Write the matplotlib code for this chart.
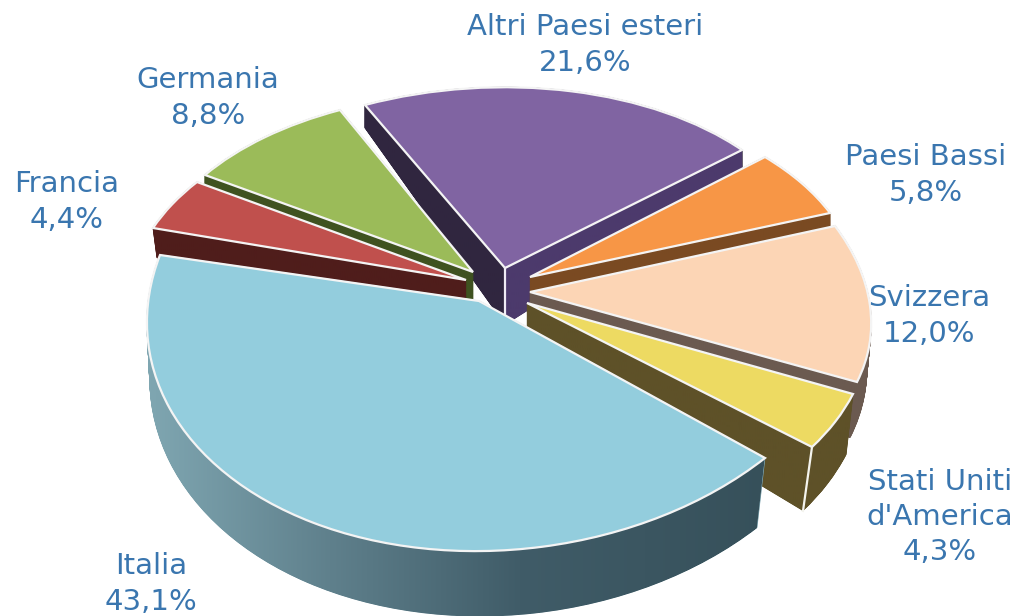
import numpy as np
from matplotlib import pyplot as plt
from matplotlib.colors import to_rgb
from matplotlib.path import Path
from matplotlib.transforms import Transform

# pie order, counter-clockwise starting from the lower right
labels = ["Stati Uniti\nd'America", "Svizzera", "Paesi Bassi", "Altri Paesi esteri", "Germania", "Francia", "Italia"]
values = [4.3, 12.0, 5.8, 21.6, 8.8, 4.4, 43.1]
value_labels = ["4,3%", "12,0%", "5,8%", "21,6%", "8,8%", "4,4%", "43,1%"]

top_colors = ["#EDDA62", "#FCD5B5", "#F79646", "#8064A2", "#9BBB59", "#C0504D", "#93CDDD"]

# walls: colour stops along x (pixels)
wall_colors = [
	[(0, "#5E5128"), (1016, "#5E5128")],
	[(0, "#6B5A50"), (1016, "#6B5A50")],
	[(0, "#7A4A22"), (1016, "#7A4A22")],
	[(0, "#30263F"), (504, "#30263F"), (506, "#4C3A6C"), (1016, "#4C3A6C")],
	[(0, "#3F5220"), (1016, "#3F5220")],
	[(0, "#4F1D1B"), (1016, "#4F1D1B")],
	[(0, "#7FA6B1"), (150, "#7FA6B1"), (330, "#5F808C"), (520, "#405C68"), (770, "#36505A"), (1016, "#36505A")],
]

# placement on the canvas: apex, rim at start angle, rim at end angle (pixels)
top_pts = [
	[(527, 303), (812, 447), (853, 394)],
	[(530, 292), (857, 382), (835, 226)],
	[(530, 277), (830, 213), (765, 157)],
	[(505, 268), (742, 150), (365, 105)],
	[(473, 272), (340, 110), (205, 175)],
	[(466, 280), (197, 182), (153, 228)],
	[(479, 301), (160, 255), (765, 458)],
]
bottom_pts = [
	[(527, 345), (803, 511), (846, 455)],
	[(530, 345), (850, 438), (835, 270)],
	[(530, 325), (830, 250), (765, 190)],
	[(505, 325), (742, 175), (365, 128)],
	[(473, 325), (340, 135), (205, 200)],
	[(466, 320), (197, 210), (157, 258)],
	[(479, 360), (165, 305), (757, 528)],
]

# perspective of each slice: (along sin, along cos)
tilts = [(0, 0), (0, 0), (0, 0), (0.08, 0.05), (0, 0), (0, 0), (0, -0.075)]

# back to front
draw_order = [3, 2, 4, 5, 1, 0, 6]
start_angle = -36
n_layers = 80

label_pos = [(940, 517), (929, 316), (926, 175), (585, 45), (208, 98), (67, 202), (151, 584)]
text_color = "#3A76AF"

class Tilted(Transform):
	# unit circle -> canvas, one side of the pie comes out bigger
	input_dims = 2
	output_dims = 2

	def __init__(self, m, apex, tilt):
		super().__init__()
		self.m = m
		self.apex = apex
		self.tilt = tilt

	def transform_non_affine(self, values):
		v = np.asarray(values)
		w = 1 + self.tilt[0] * v[:, 1] + self.tilt[1] * v[:, 0]
		return (v @ self.m.T) / w[:, np.newaxis] + self.apex

def solve_matrix(pts, theta0, theta1, tilt):
	apex, p0, p1 = [np.array(p, dtype=float) for p in pts]
	c0, c1 = np.cos(np.radians(theta0)), np.cos(np.radians(theta1))
	s0, s1 = np.sin(np.radians(theta0)), np.sin(np.radians(theta1))
	unit = np.array([[c0, c1], [s0, s1]])
	w0 = 1 + tilt[0] * s0 + tilt[1] * c0
	w1 = 1 + tilt[0] * s1 + tilt[1] * c1
	rim = np.column_stack([(p0 - apex) * w0, (p1 - apex) * w1])
	return rim @ np.linalg.inv(unit), apex

fig = plt.figure(figsize=(10.16, 6.16), dpi=100)
ax = fig.add_axes([0, 0, 1, 1])

edges = start_angle + np.concatenate([[0], np.cumsum(values)]) * 3.6

for z, i in enumerate(draw_order):
	m_top, apex_top = solve_matrix(top_pts[i], edges[i], edges[i + 1], tilts[i])
	m_bot, apex_bot = solve_matrix(bottom_pts[i], edges[i], edges[i + 1], tilts[i])
	frac = values[i] / 100
	outline = []

	for layer in range(n_layers):
		t = layer / (n_layers - 1)
		tr = Tilted(m_bot * (1 - t) + m_top * t, apex_bot * (1 - t) + apex_top * t, tilts[i])
		wedge = ax.pie([frac], normalize=False, startangle=edges[i])[0][0]
		wedge.set_transform(tr + ax.transData)
		wedge.set_zorder(z * 10 + 1)
		wedge.set_facecolor(wall_colors[i][0][1])
		wedge.set_edgecolor("white" if layer == 0 else wall_colors[i][0][1])
		wedge.set_linewidth(2.2 if layer == 0 else 0.8)
		outline.append(tr.transform_path(wedge.get_path().transformed(wedge.get_patch_transform())))

	# wall shading, clipped to the extruded outline
	xs = np.arange(0, 1017, 2)
	stops = wall_colors[i]
	rgb = np.array([to_rgb(c) for _, c in stops])
	grad = np.stack([np.interp(xs, [s[0] for s in stops], rgb[:, k]) for k in range(3)], axis=-1)
	im = ax.imshow(grad[np.newaxis, :, :], extent=(0, 1016, 616, 0), aspect="auto", zorder=z * 10 + 2)
	im.set_clip_path(Path.make_compound_path(*outline), ax.transData)

	wedge = ax.pie([frac], normalize=False, startangle=edges[i])[0][0]
	wedge.set_transform(Tilted(m_top, apex_top, tilts[i]) + ax.transData)
	wedge.set_zorder(z * 10 + 3)
	wedge.set_facecolor(top_colors[i])
	wedge.set_edgecolor("#F4F4F4")
	wedge.set_linewidth(1.6)

# white creases on the corners of the walls
ax.plot([505, 505], [268, 322], color="#F0ECF5", lw=1.6, zorder=34)
ax.plot([812, 803], [447, 511], color="#F4F4EE", lw=1.6, zorder=54)

for i, name in enumerate(labels):
	ax.text(label_pos[i][0], label_pos[i][1], name + "\n" + value_labels[i], color=text_color,
		fontsize=21, family="DejaVu Sans", ha="center", va="center", linespacing=1.32, zorder=100)

ax.set_aspect("auto")
ax.set_xlim(0, 1016)
ax.set_ylim(616, 0)
ax.axis("off")
fig.savefig("out.png", dpi=100)
